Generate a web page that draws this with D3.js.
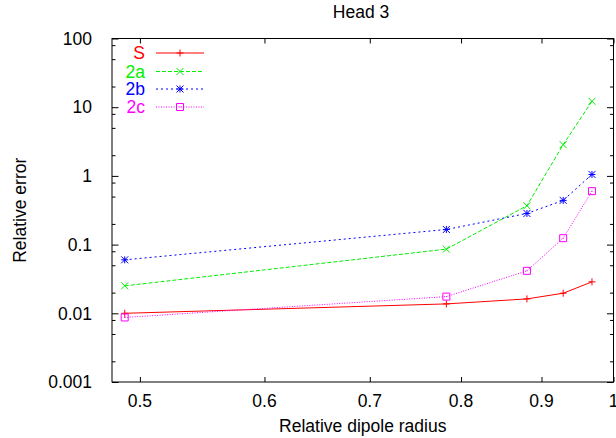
<!DOCTYPE html>
<html>
<head>
<meta charset="utf-8">
<script src="https://cdn.jsdelivr.net/npm/d3@7/dist/d3.min.js"></script>
<style>
html,body{margin:0;padding:0;background:#fff;}
svg{display:block;}
text{font-family:"Liberation Sans",Arial,Helvetica,sans-serif;}
</style>
</head>
<body>
<svg id="chart" width="616" height="438"></svg>
<script>
// ---- data ----
const radii = [0.489, 0.783, 0.881, 0.929, 0.969];
const seriesNames = ["S", "2a", "2b", "2c"];
const valuesS  = [0.0100, 0.0137, 0.0162, 0.0196, 0.0287];
const values2a = [0.0251, 0.0859, 0.368, 2.85, 12.2];
const values2b = [0.060, 0.166, 0.284, 0.44, 1.05];
const values2c = [0.0087, 0.0175, 0.0415, 0.124, 0.60];
const xTicks = [0.5, 0.6, 0.7, 0.8, 0.9, 1];
const xTickLabels = ["0.5", "0.6", "0.7", "0.8", "0.9", "1"];
const yTicks = [0.001, 0.01, 0.1, 1, 10, 100];
const yTickLabels = ["0.001", "0.01", "0.1", "1", "10", "100"];
const yMinorMult = [2, 5, 8];

const colors = ["#ff0000", "#00ee00", "#0000ff", "#ff00ff"];
const dashes = [null, "4,2", "2,3", "1,1.5"];
const markers = ["plus", "cross", "star", "square"];

const svg = d3.select("#chart");
const L = 112, R = 613.5, T = 38.5, B = 382;
const x = d3.scaleLog().domain([0.48, 1]).range([L, R]);
const y = d3.scaleLog().domain([0.001, 100]).range([B, T]);
const FS = 17.5;

// title
svg.append("text").attr("x", 361).attr("y", 17.5).attr("text-anchor", "middle")
  .attr("font-size", FS).text("Head 3");

// axes via d3
const xAxisB = d3.axisBottom(x).tickValues(xTicks).tickSize(-5).tickFormat("");
const xAxisT = d3.axisTop(x).tickValues(xTicks).tickSize(-5).tickFormat("");
svg.append("g").attr("transform", `translate(0,${B})`).call(xAxisB)
  .call(g => g.select(".domain").remove());
svg.append("g").attr("transform", `translate(0,${T})`).call(xAxisT)
  .call(g => g.select(".domain").remove());

const yMinor = [];
yTicks.slice(0, -1).forEach(t => yMinorMult.forEach(m => yMinor.push(t * m)));
const yAxisL = d3.axisLeft(y).tickValues(yTicks).tickSize(-6.5).tickFormat("");
const yAxisR = d3.axisRight(y).tickValues(yTicks).tickSize(-6.5).tickFormat("");
const yAxisLm = d3.axisLeft(y).tickValues(yMinor).tickSize(-3.5).tickFormat("");
const yAxisRm = d3.axisRight(y).tickValues(yMinor).tickSize(-3.5).tickFormat("");
[[yAxisL, L], [yAxisR, R], [yAxisLm, L], [yAxisRm, R]].forEach(([ax, px]) => {
  svg.append("g").attr("transform", `translate(${px},0)`).call(ax)
    .call(g => g.select(".domain").remove());
});
svg.selectAll(".tick line").attr("stroke", "#000").attr("stroke-width", 1);

// tick labels
svg.append("g").selectAll("text").data(xTicks).join("text")
  .attr("x", d => x(d)).attr("y", 406.7).attr("text-anchor", "middle")
  .attr("font-size", FS).text((d, i) => xTickLabels[i]);
svg.append("g").selectAll("text").data(yTicks).join("text")
  .attr("x", 92).attr("y", d => y(d) + 6.2).attr("text-anchor", "end")
  .attr("font-size", FS).text((d, i) => yTickLabels[i]);

// axis titles
svg.append("text").attr("x", (L + R) / 2).attr("y", 431.7).attr("text-anchor", "middle")
  .attr("font-size", FS).text("Relative dipole radius");
svg.append("text").attr("transform", `translate(26,${(T + B) / 2}) rotate(-90)`)
  .attr("text-anchor", "middle").attr("font-size", FS).text("Relative error");

// frame
svg.append("rect").attr("x", L).attr("y", T).attr("width", R - L).attr("height", B - T)
  .attr("fill", "none").attr("stroke", "#000").attr("stroke-width", 1);

// marker drawing
function drawMarker(g, type, cx, cy, color) {
  const s = 3.5;
  const p = d3.path();
  if (type === "plus" || type === "star") {
    p.moveTo(cx - s, cy); p.lineTo(cx + s, cy);
    p.moveTo(cx, cy - s); p.lineTo(cx, cy + s);
  }
  if (type === "cross" || type === "star") {
    p.moveTo(cx - s, cy - s); p.lineTo(cx + s, cy + s);
    p.moveTo(cx - s, cy + s); p.lineTo(cx + s, cy - s);
  }
  if (type === "square") {
    p.rect(cx - s, cy - s, 2 * s, 2 * s);
    g.append("rect").attr("x", cx - 0.5).attr("y", cy - 0.5).attr("width", 1).attr("height", 1)
      .attr("fill", color);
  }
  g.append("path").attr("d", p.toString()).attr("fill", "none")
    .attr("stroke", color).attr("stroke-width", 1);
}

const allValues = [valuesS, values2a, values2b, values2c];
const line = d3.line().x(d => x(d[0])).y(d => y(d[1]));
allValues.forEach((vals, i) => {
  const g = svg.append("g");
  const pts = radii.map((r, j) => [r, vals[j]]);
  g.append("path").attr("d", line(pts)).attr("fill", "none")
    .attr("stroke", colors[i]).attr("stroke-width", 1)
    .attr("stroke-dasharray", dashes[i]);
  pts.forEach(pt => drawMarker(g, markers[i], x(pt[0]), y(pt[1]), colors[i]));
});

// legend
const legY = [53, 71.5, 89, 107];
seriesNames.forEach((name, i) => {
  const g = svg.append("g");
  g.append("text").attr("x", 145).attr("y", legY[i] + 6.3).attr("text-anchor", "end")
    .attr("font-size", FS).attr("fill", colors[i]).text(name);
  g.append("line").attr("x1", 156).attr("x2", 204).attr("y1", legY[i]).attr("y2", legY[i])
    .attr("stroke", colors[i]).attr("stroke-width", 1).attr("stroke-dasharray", dashes[i]);
  drawMarker(g, markers[i], 180, legY[i], colors[i]);
});
</script>
</body>
</html>
